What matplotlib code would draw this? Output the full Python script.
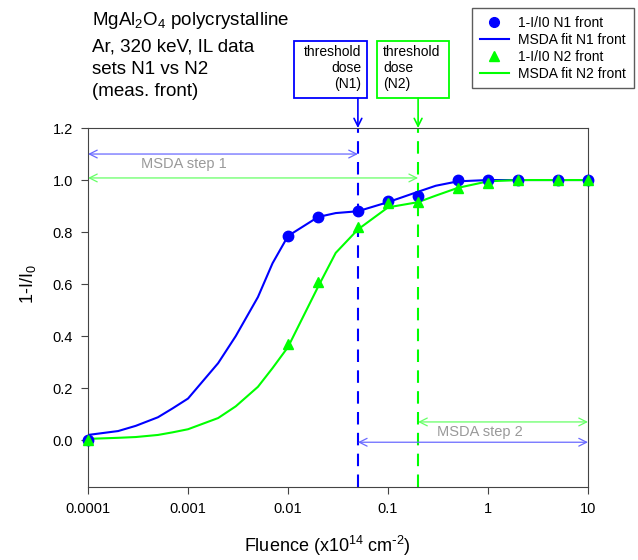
import matplotlib
matplotlib.use("Agg")
import matplotlib.pyplot as plt
from matplotlib.patches import Rectangle
from matplotlib.lines import Line2D

plt.rcParams['font.family'] = ['Liberation Sans', 'DejaVu Sans']
plt.rcParams['mathtext.default'] = 'regular'

# measured points
x_pts = [0.0001, 0.01, 0.02, 0.05, 0.1, 0.2, 0.5, 1, 2, 5, 10]
n1_pts = [0.0, 0.785, 0.858, 0.88, 0.92, 0.94, 1.0, 1.0, 1.0, 1.0, 1.0]
n2_pts = [0.0, 0.37, 0.607, 0.82, 0.91, 0.915, 0.97, 0.99, 1.0, 1.0, 1.0]

# MSDA fit curves
x_fit = [0.0001, 0.0002, 0.0003, 0.0005, 0.0007, 0.001, 0.002, 0.003, 0.005,
         0.007, 0.01, 0.02, 0.03, 0.05, 0.1, 0.2, 0.3, 0.5, 1, 2, 5, 10]
n1_fit = [0.02, 0.035, 0.055, 0.088, 0.122, 0.16, 0.296, 0.40, 0.55,
          0.68, 0.785, 0.858, 0.873, 0.88, 0.915, 0.955, 0.978, 0.995, 1.0, 1.0, 1.0, 1.0]
n2_fit = [0.005, 0.009, 0.012, 0.02, 0.03, 0.042, 0.085, 0.13, 0.205,
          0.277, 0.358, 0.59, 0.72, 0.81, 0.895, 0.915, 0.94, 0.97, 0.995, 1.0, 1.0, 1.0]

x_ticks = [0.0001, 0.001, 0.01, 0.1, 1, 10]
x_ticklabels = ['0.0001', '0.001', '0.01', '0.1', '1', '10']
y_ticks = [0.0, 0.2, 0.4, 0.6, 0.8, 1.0, 1.2]

thr_n1 = 0.05
thr_n2 = 0.2

blue = '#0000ff'
green = '#00ff00'
lblue = '#6a6aff'
lgreen = '#66ff66'

fig = plt.figure(figsize=(6.38, 5.6), dpi=100)
ax = fig.add_axes([0.138, 0.1304, 0.7836, 0.641])

ax.plot(x_fit, n1_fit, color=blue, lw=1.5)
ax.plot(x_pts, n1_pts, 'o', color=blue, ms=7.5, clip_on=False, zorder=4)
ax.plot(x_fit, n2_fit, color=green, lw=1.5)
ax.plot(x_pts, n2_pts, '^', color=green, ms=7.5, clip_on=False, zorder=5)

# threshold lines
ax.axvline(thr_n1, color=blue, lw=1.5, ls=(0, (6, 4)))
ax.axvline(thr_n2, color=green, lw=1.5, ls=(0, (6, 4)))

ax.set_xscale('log')
ax.set_xlim(1e-4, 10)
ax.set_ylim(-0.18, 1.2)
ax.set_xticks(x_ticks)
ax.set_xticklabels(x_ticklabels)
ax.minorticks_off()
ax.set_yticks(y_ticks)
ax.set_yticklabels(['%.1f' % v for v in y_ticks])
ax.tick_params(direction='out', length=5, labelsize=10.5, color='#444444', pad=6)
for s in ax.spines.values():
    s.set_color('#444444')

ax.set_xlabel(r'Fluence (x10$^{14}$ cm$^{\text{-}2}$)', fontsize=13)
ax.set_ylabel('1-I/I$_0$', fontsize=13)
ax.xaxis.set_label_coords(0.478, -0.13)
ax.yaxis.set_label_coords(-0.10, 0.565)

# MSDA step arrows
arr = dict(arrowstyle='<->', lw=0.9, shrinkA=0, shrinkB=0, mutation_scale=14)
ax.annotate('', xy=(1e-4, 1.1), xytext=(thr_n1, 1.1), arrowprops=dict(arr, color=lblue), annotation_clip=False)
ax.annotate('', xy=(1e-4, 1.008), xytext=(thr_n2, 1.008), arrowprops=dict(arr, color=lgreen), annotation_clip=False)
ax.text(9e-4, 1.06, 'MSDA step 1', color='#999999', fontsize=10.5, ha='center', va='center')

ax.annotate('', xy=(thr_n1, -0.008), xytext=(10, -0.008), arrowprops=dict(arr, color=lblue))
ax.annotate('', xy=(thr_n2, 0.07), xytext=(10, 0.07), arrowprops=dict(arr, color=lgreen))
ax.text(0.83, 0.03, 'MSDA step 2', color='#999999', fontsize=10.5, ha='center', va='center')

# arrows from threshold boxes
down = dict(arrowstyle='->', lw=1.2, shrinkA=0, shrinkB=0, mutation_scale=14)
ax.annotate('', xy=(thr_n1, 1.2), xytext=(thr_n1, 1.315), arrowprops=dict(down, color=blue), annotation_clip=False)
ax.annotate('', xy=(thr_n2, 1.2), xytext=(thr_n2, 1.315), arrowprops=dict(down, color=green), annotation_clip=False)

W, H = 638.0, 560.0
def fbox(x0, x1, y0, y1, col):
    fig.patches.append(Rectangle((x0 / W, 1 - y1 / H), (x1 - x0) / W, (y1 - y0) / H,
                                 transform=fig.transFigure, fill=False, ec=col, lw=1.3))

fbox(294, 367, 41, 98, blue)
fbox(377, 449, 41, 98, green)
fig.text(361 / W, 1 - 45 / H, 'threshold\ndose\n(N1)', ha='right', va='top', fontsize=10, linespacing=1.2)
fig.text(383 / W, 1 - 45 / H, 'threshold\ndose\n(N2)', ha='left', va='top', fontsize=10, linespacing=1.2)

# title block
fig.text(92 / W, 1 - 25 / H, 'MgAl$_2$O$_4$ polycrystalline', fontsize=13.5, va='baseline')
for txt, yb in [('Ar, 320 keV, IL data', 52), ('sets N1 vs N2', 74), ('(meas. front)', 96)]:
    fig.text(92 / W, 1 - yb / H, txt, fontsize=13.5, va='baseline')

handles = [Line2D([], [], ls='none', marker='o', color=blue, ms=7),
           Line2D([], [], color=blue, lw=1.5),
           Line2D([], [], ls='none', marker='^', color=green, ms=7),
           Line2D([], [], color=green, lw=1.5)]
labels = ['1-I/I0 N1 front', 'MSDA fit N1 front', '1-I/I0 N2 front', 'MSDA fit N2 front']
leg = fig.legend(handles, labels, loc='upper right', bbox_to_anchor=(634 / W, 1 - 8 / H),
                 fontsize=10, frameon=True, fancybox=False, edgecolor='#333333',
                 handlelength=2.1, labelspacing=0.22, borderpad=0.55, handletextpad=0.7,
                 borderaxespad=0)
leg.get_frame().set_linewidth(1.0)

fig.savefig('out.png', dpi=100)
